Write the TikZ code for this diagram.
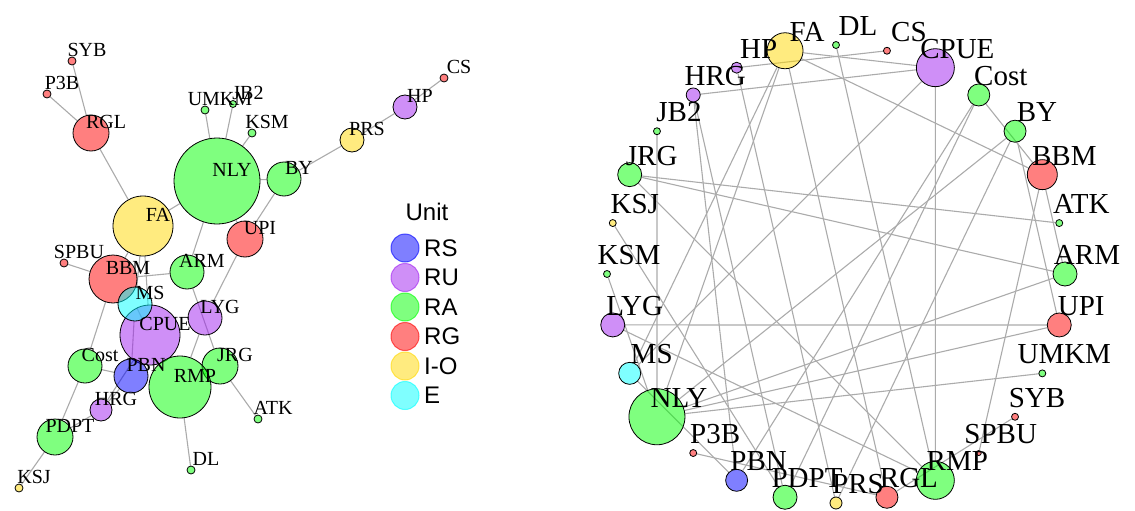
\documentclass[tikz,border=0pt]{standalone}
\usepackage{fontspec}
\setmainfont{Liberation Serif}
\newfontfamily\legendfont{Liberation Sans}
\definecolor{unitRS}{RGB}{0,0,255}
\definecolor{unitRU}{RGB}{160,32,240}
\definecolor{unitRA}{RGB}{0,255,0}
\definecolor{unitRG}{RGB}{255,0,0}
\definecolor{unitIO}{RGB}{255,215,0}
\definecolor{unitE}{RGB}{0,255,255}
\pgfdeclarelayer{bg}
\pgfsetlayers{bg,main}
\begin{document}
\begin{tikzpicture}[x=1pt,y=-1pt,
vtx/.style={circle,draw=black,line width=.8pt,fill opacity=.5,inner sep=0pt,minimum size=#1*2pt},
edge/.style={draw=black!33,line width=1.1pt},
lbl/.style={font=\fontsize{20}{20}\selectfont,inner sep=0pt},
rlbl/.style={font=\fontsize{29}{29}\selectfont,inner sep=0pt},
key/.style={circle,inner sep=0pt,minimum size=28pt,fill opacity=.5,draw opacity=.6,line width=1pt},
keylbl/.style={font=\legendfont\fontsize{24}{24}\selectfont,anchor=west,inner sep=0pt}]
\useasboundingbox(0,0)rectangle(1135,511);
% spring layout
\foreach \n/\x/\y/\r/\u in {ARM/187/272/17/RA,ATK/258/419/4/RA,BBM/113/279/24/RG,BY/284/179/17/RA,Cost/85/366/17/RA,CPUE/150/335/30/RU,CS/444/78/4/RG,DL/191/470/4/RA,FA/143/226/30/IO,HP/405/107/12/RU,HRG/101/410/11/RU,JB2/233/104/3.5/RA,JRG/220/366/18/RA,KSJ/19/488/4/IO,KSM/252/133/4/RA,LYG/205/318/17/RU,MS/135/304/17/E,NLY/217/181/43/RA,P3B/47/94/4/RG,PBN/131/376/17/RS,PDPT/55/437/18/RA,PRS/352/140/12/IO,RGL/91/133/18/RG,RMP/180/387/31/RA,SPBU/64/263/4/RG,SYB/72/61/4/RG,UMKM/205/110/4/RA,UPI/245/239/18/RG}
\node[vtx=\r,fill=unit\u](L\n)at(\x,\y){};
\foreach \n in {ARM,ATK,BBM,BY,Cost,CPUE,CS,DL,FA,HP,HRG,JB2,JRG,KSJ,KSM,LYG,MS,NLY,P3B,PBN,PDPT,PRS,RGL,RMP,SPBU,SYB,UMKM,UPI}
\node[lbl](L\n-t)at([shift={(15,-11)}]L\n){\n};
% circle layout
\foreach \n/\r/\u [count=\k from 0] in {ARM/12/RA,ATK/3.5/RA,BBM/15/RG,BY/11/RA,Cost/11/RA,CPUE/19/RU,CS/3.5/RG,DL/3.5/RA,FA/18/IO,HP/5.5/RU,HRG/7/RU,JB2/3.5/RA,JRG/12/RA,KSJ/3.5/IO,KSM/3.5/RA,LYG/12/RU,MS/11/E,NLY/28/RA,P3B/3.5/RG,PBN/11/RS,PDPT/12/RA,PRS/6/IO,RGL/11/RG,RMP/19/RA,SPBU/2.5/RG,SYB/3.5/RG,UMKM/3.5/RA,UPI/12/RG}
\node[vtx=\r,fill=unit\u](R\n)at([shift={(836,274)}]{-12.857*\k}:229){};
\foreach \n in {ARM,ATK,BBM,BY,Cost,CPUE,CS,DL,FA,HP,HRG,JB2,JRG,KSJ,KSM,LYG,MS,NLY,P3B,PBN,PDPT,PRS,RGL,RMP,SPBU,SYB,UMKM,UPI}
\node[rlbl](R\n-t)at([shift={(22,-19)}]R\n){\n};
\begin{pgfonlayer}{bg}
\foreach \a/\b in {SYB/RGL,P3B/RGL,RGL/FA,UMKM/NLY,JB2/NLY,KSM/NLY,NLY/BY,BY/PRS,PRS/HP,HP/CS,FA/NLY,NLY/ARM,BY/UPI,UPI/LYG,LYG/RMP,ARM/JRG,SPBU/BBM,BBM/ARM,BBM/Cost,FA/CPUE,FA/BBM,FA/MS,MS/PBN,MS/CPUE,Cost/PBN,PBN/HRG,HRG/PDPT,Cost/PDPT,PDPT/KSJ,RMP/DL,JRG/ATK,RMP/JRG,CPUE/RMP,CPUE/HRG,NLY/UPI}
{\draw[edge](L\a)--(L\b);\draw[edge](R\a)--(R\b);}
\end{pgfonlayer}
% legend
\node[font=\legendfont\fontsize{24}{24}\selectfont,inner sep=0pt](unit)at(427,212){Unit};
\foreach \u/\t [count=\i from 0] in {RS/RS,RU/RU,RA/RA,RG/RG,IO/I-O,E/E}{
\node[key,fill=unit\u,draw=unit\u](key\u)at(405,{248+29.5*\i}){};
\node[keylbl](key\u-t)at(424,{248+29.5*\i}){\t};}
\end{tikzpicture}
\end{document}
